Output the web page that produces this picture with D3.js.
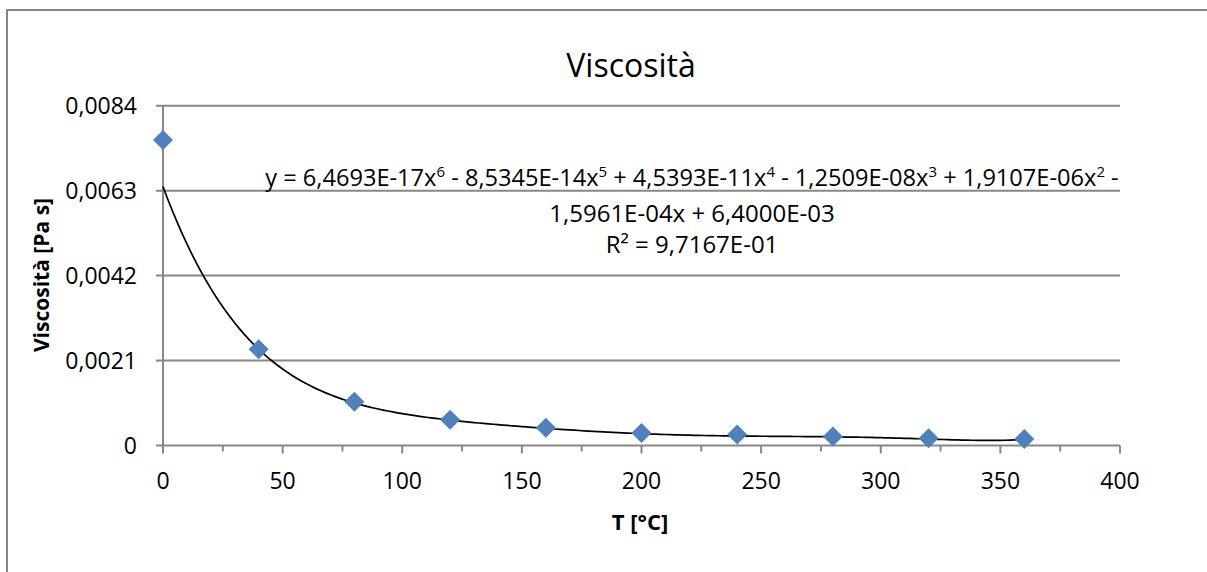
<!DOCTYPE html>
<html>
<head>
<meta charset="utf-8">
<script src="https://cdn.jsdelivr.net/npm/d3@7"></script>
<style>
  body { margin: 0; background: #fff; }
  text { font-family: "Open Sans", sans-serif; fill: #000; }
</style>
</head>
<body>
<div id="chart"></div>
<script>
// data
var temperature = [0, 40, 80, 120, 160, 200, 240, 280, 320, 360];
var viscosity = [0.00755, 0.00238, 0.00108, 0.000635, 0.000437, 0.00031, 0.00027, 0.00022, 0.00018, 0.00016];
var yTicks = [0, 0.0021, 0.0042, 0.0063, 0.0084];
var xTicks = [0, 50, 100, 150, 200, 250, 300, 350, 400];
// trendline coefficients (x^6 ... x^0) as printed on the chart
var coeffs = [6.4693e-17, -8.5345e-14, 4.5393e-11, -1.2509e-08, 1.9107e-06, -1.5961e-04, 6.4000e-03];

var width = 1207, height = 572;

var svg = d3.select("#chart")
  .append("svg")
    .attr("width", width)
    .attr("height", height);

svg.append("rect")
  .attr("x", 0).attr("y", 0).attr("width", width).attr("height", height)
  .attr("fill", "#fff");

// chart area border (runs off the right and bottom edges)
svg.append("rect")
  .attr("x", 7).attr("y", 10)
  .attr("width", 1300).attr("height", 700)
  .attr("fill", "none")
  .attr("stroke", "#878787")
  .attr("stroke-width", 2);

var x = d3.scaleLinear().domain([0, 400]).range([163, 1120]);
var y = d3.scaleLinear().domain([0, 0.0084]).range([445.5, 105.7]);

var fmt = function(d) { return d === 0 ? "0" : d3.format(".4f")(d).replace(".", ","); };

// horizontal gridlines
svg.append("g")
  .selectAll("line")
  .data(yTicks)
  .enter().append("line")
    .attr("x1", x(0) - 7)
    .attr("x2", x(400))
    .attr("y1", function(d) { return y(d); })
    .attr("y2", function(d) { return y(d); })
    .attr("stroke", "#878787")
    .attr("stroke-width", 2);

// y axis line
svg.append("line")
  .attr("x1", x(0)).attr("x2", x(0))
  .attr("y1", y(0.0084)).attr("y2", y(0))
  .attr("stroke", "#878787").attr("stroke-width", 2);

// x ticks, major and minor
var minor = d3.range(25, 400, 50);
svg.append("g")
  .selectAll("line")
  .data(xTicks)
  .enter().append("line")
    .attr("x1", function(d) { return x(d); })
    .attr("x2", function(d) { return x(d); })
    .attr("y1", y(0)).attr("y2", y(0) + 8)
    .attr("stroke", "#878787").attr("stroke-width", 2);
svg.append("g")
  .selectAll("line")
  .data(minor)
  .enter().append("line")
    .attr("x1", function(d) { return x(d); })
    .attr("x2", function(d) { return x(d); })
    .attr("y1", y(0)).attr("y2", y(0) + 6)
    .attr("stroke", "#878787").attr("stroke-width", 2);

// tick labels
svg.append("g")
  .selectAll("text")
  .data(yTicks)
  .enter().append("text")
    .attr("x", 137)
    .attr("y", function(d) { return y(d); })
    .attr("dy", "0.36em")
    .attr("text-anchor", "end")
    .style("font-size", "23px")
    .text(fmt);

svg.append("g")
  .selectAll("text")
  .data(xTicks)
  .enter().append("text")
    .attr("x", function(d) { return x(d); })
    .attr("y", 489)
    .attr("text-anchor", "middle")
    .style("font-size", "23px")
    .text(function(d) { return d; });

// trendline
var curve = d3.range(0, 360.5, 2).map(function(t) {
  var v = 0;
  coeffs.forEach(function(c) { v = v * t + c; });
  return [t, v];
});
svg.append("path")
  .datum(curve)
  .attr("fill", "none")
  .attr("stroke", "#000")
  .attr("stroke-width", 1.7)
  .attr("d", d3.line()
    .x(function(d) { return x(d[0]); })
    .y(function(d) { return y(d[1]); }));

// markers
var diamond = d3.symbol().type(d3.symbolSquare).size(200);
svg.append("g")
  .selectAll("path")
  .data(temperature)
  .enter().append("path")
    .attr("d", diamond)
    .attr("transform", function(d, i) { return "translate(" + x(d) + "," + y(viscosity[i]) + ") rotate(45)"; })
    .attr("fill", "#4F81BD");

// title
svg.append("text")
  .attr("x", 631).attr("y", 77)
  .attr("text-anchor", "middle")
  .style("font-size", "32px")
  .text("Viscosità");

// axis titles
svg.append("text")
  .attr("transform", "translate(49,275) rotate(-90)")
  .attr("text-anchor", "middle")
  .style("font-size", "21px")
  .style("font-weight", "bold")
  .text("Viscosità [Pa s]");

svg.append("text")
  .attr("x", 640).attr("y", 530)
  .attr("text-anchor", "middle")
  .style("font-size", "22px")
  .style("font-weight", "bold")
  .text("T [°C]");

// trendline label
var eq = svg.append("g").style("font-size", "24px");
var line1 = eq.append("text").attr("x", 692).attr("y", 186)
  .attr("text-anchor", "middle").style("font-size", "23.6px");
var parts = [["y = 6,4693E-17x", "6"], [" - 8,5345E-14x", "5"], [" + 4,5393E-11x", "4"],
             [" - 1,2509E-08x", "3"], [" + 1,9107E-06x", "2"], [" -", ""]];
parts.forEach(function(p, i) {
  line1.append("tspan").attr("dy", i === 0 ? 0 : 9).text(p[0]);
  if (p[1]) {
    line1.append("tspan").attr("dy", -9).style("font-size", "15px").text(p[1]);
  }
});
eq.append("text").attr("x", 692).attr("y", 222).attr("text-anchor", "middle")
  .text("1,5961E-04x + 6,4000E-03");
eq.append("text").attr("x", 692).attr("y", 253).attr("text-anchor", "middle")
  .text("R² = 9,7167E-01");
</script>
</body>
</html>
